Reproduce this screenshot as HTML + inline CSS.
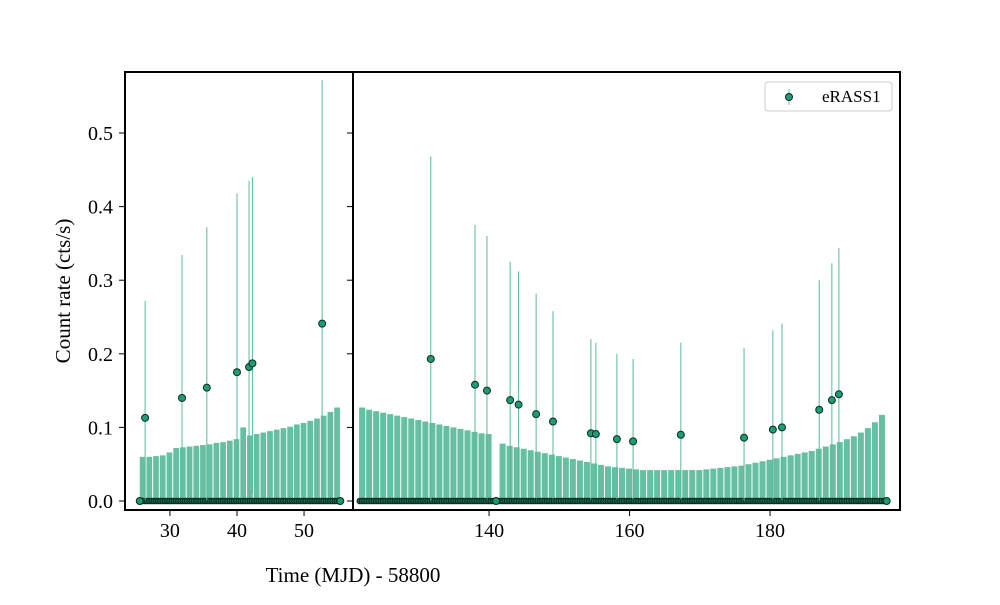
<!DOCTYPE html>
<html><head><meta charset="utf-8"><style>
body{margin:0;background:#fff;}
svg text{font-family:"Liberation Serif",serif;fill:#000;}
</style></head><body>
<svg id="chart" width="1000" height="600" viewBox="0 0 1000 600" xmlns="http://www.w3.org/2000/svg">
<g id="marks"></g>
<g id="axes"></g>
<text x="353" y="582" text-anchor="middle" font-size="21">Time (MJD) - 58800</text>
<text transform="translate(70,291) rotate(-90)" text-anchor="middle" font-size="21">Count rate (cts/s)</text>
<g>
<rect x="765" y="82" width="127" height="29" rx="3" fill="#fff" stroke="#ccc" stroke-width="1"/>
<line x1="789" x2="789" y1="89" y2="105" stroke="#66bfa2" stroke-width="1"/>
<circle cx="789" cy="97" r="3.5" fill="#1b9e77" stroke="#0a2a1e" stroke-width="1"/>
<text x="822" y="102" font-size="17">eRASS1</text>
</g>
</svg>
<script>
const leftStartDay = 26;
const leftUpper = [0.060,0.060,0.061,0.062,0.066,0.072,0.073,0.074,0.075,0.076,0.077,0.079,0.080,0.082,0.084,0.100,0.089,0.091,0.093,0.095,0.097,0.099,0.101,0.104,0.106,0.109,0.112,0.116,0.121,0.127];
const rightStartDay = 122;
const rightUpper = [0.127,0.124,0.122,0.120,0.118,0.116,0.114,0.112,0.110,0.108,0.106,0.104,0.102,0.100,0.098,0.096,0.094,0.092,0.091,0.0,0.078,0.075,0.073,0.071,0.069,0.067,0.065,0.063,0.061,0.059,0.057,0.055,0.053,0.051,0.049,0.047,0.046,0.045,0.044,0.043,0.042,0.042,0.042,0.042,0.042,0.042,0.042,0.042,0.042,0.043,0.044,0.045,0.046,0.047,0.048,0.050,0.052,0.054,0.056,0.058,0.060,0.062,0.064,0.066,0.068,0.071,0.074,0.077,0.080,0.084,0.088,0.093,0.099,0.107,0.117];
const detTimes = [26.3,31.8,35.5,40,41.8,42.3,52.7,131.7,138,139.7,143,144.2,146.7,149.1,154.5,155.2,158.2,160.5,167.3,176.3,180.4,181.7,187,188.8,189.8];
const detRates = [0.113,0.14,0.154,0.175,0.182,0.187,0.241,0.193,0.158,0.15,0.137,0.131,0.118,0.108,0.092,0.091,0.084,0.081,0.09,0.086,0.097,0.1,0.124,0.137,0.145];
const detUpper = [0.272,0.334,0.372,0.418,0.435,0.44,0.572,0.468,0.375,0.36,0.325,0.312,0.282,0.258,0.22,0.215,0.2,0.193,0.215,0.208,0.232,0.241,0.3,0.323,0.344];
const leftTicks = [30,40,50];
const rightTicks = [140,160,180];
const yTicks = [0.0,0.1,0.2,0.3,0.4,0.5];

const NS="http://www.w3.org/2000/svg";
const L={x0:125,x1:353,d0:23.3,d1:57.3};
const R={x0:353,x1:900,d0:120.63,d1:198.5};
const Y0=501, YS=736;
function y(v){return Y0-v*YS;}
function xs(p,t){return p.x0+(t-p.d0)/(p.d1-p.d0)*(p.x1-p.x0);}
function panelFor(t){return t<90?L:R;}
const marks=document.getElementById('marks'), axes=document.getElementById('axes');
function mk(tag,attrs,parent){const e=document.createElementNS(NS,tag);for(const k in attrs)e.setAttribute(k,attrs[k]);parent.appendChild(e);return e;}

function drawUpper(arr,start,p,prefix){
  arr.forEach((v,i)=>{
    if(v<=0)return;
    const t=start+i;
    const xa=xs(p,t-0.5), xb=xs(p,t+0.5)-1;
    const r=mk('rect',{x:xa,y:y(v),width:Math.max(0.5,xb-xa),height:Y0-y(v),fill:'#66bfa2'},marks);
    
    
  });
  arr.forEach((v,i)=>{
    const t=start+i;
    for(let k=0;k<3;k++){
      const c=mk('circle',{cx:xs(p,t-0.4+k/3),cy:Y0,r:2.8,fill:'#1a6b50',stroke:'#0a2a1e','stroke-width':1},marks);
      
      
    }
  });
}
drawUpper(leftUpper,leftStartDay,L,'left');
drawUpper(rightUpper,rightStartDay,R,'right');
[[L,leftStartDay-0.5],[L,leftStartDay+leftUpper.length-0.6],[R,rightStartDay+19],[R,rightStartDay+rightUpper.length-0.4]].forEach(a=>{
  const c=mk('circle',{cx:xs(a[0],a[1]),cy:Y0,r:3.5,fill:'#1a9a70',stroke:'#0a2a1e','stroke-width':1},marks);
  
  
});

detTimes.forEach((t,i)=>{
  const p=panelFor(t), x=xs(p,t);
  const lo=Math.max(0,detRates[i]-(detUpper[i]-detRates[i])*0.7);
  const l=mk('line',{x1:x,x2:x,y1:y(detUpper[i]),y2:y(lo),stroke:'#5cb898','stroke-width':1},marks);
  
  
});
detTimes.forEach((t,i)=>{
  const p=panelFor(t);
  const c=mk('circle',{cx:xs(p,t),cy:y(detRates[i]),r:3.5,fill:'#1b9e77',stroke:'#0a2a1e','stroke-width':1},marks);
  
  
});

const fl=mk('rect',{x:125,y:72,width:228,height:438,fill:'none',stroke:'#000','stroke-width':2},axes);

const fr=mk('rect',{x:353,y:72,width:547,height:438,fill:'none',stroke:'#000','stroke-width':2},axes);


yTicks.forEach(v=>{
  const yy=y(v);
  const t=mk('line',{x1:119,x2:125,y1:yy,y2:yy,stroke:'#000','stroke-width':1},axes);
  
  const t2=mk('line',{x1:347,x2:353,y1:yy,y2:yy,stroke:'#000','stroke-width':1},axes);
  
  const tx=mk('text',{x:113,y:yy+7,'text-anchor':'end','font-size':20},axes);
  tx.textContent=v.toFixed(1);
  
});
function xt(p,ticks){
  ticks.forEach(v=>{
    const xx=xs(p,v);
    const t=mk('line',{x1:xx,x2:xx,y1:510,y2:516,stroke:'#000','stroke-width':1},axes);
    
    const tx=mk('text',{x:xx,y:537,'text-anchor':'middle','font-size':20},axes);
    tx.textContent=v;
    
  });
}
xt(L,leftTicks);xt(R,rightTicks);
</script>
</body></html>
